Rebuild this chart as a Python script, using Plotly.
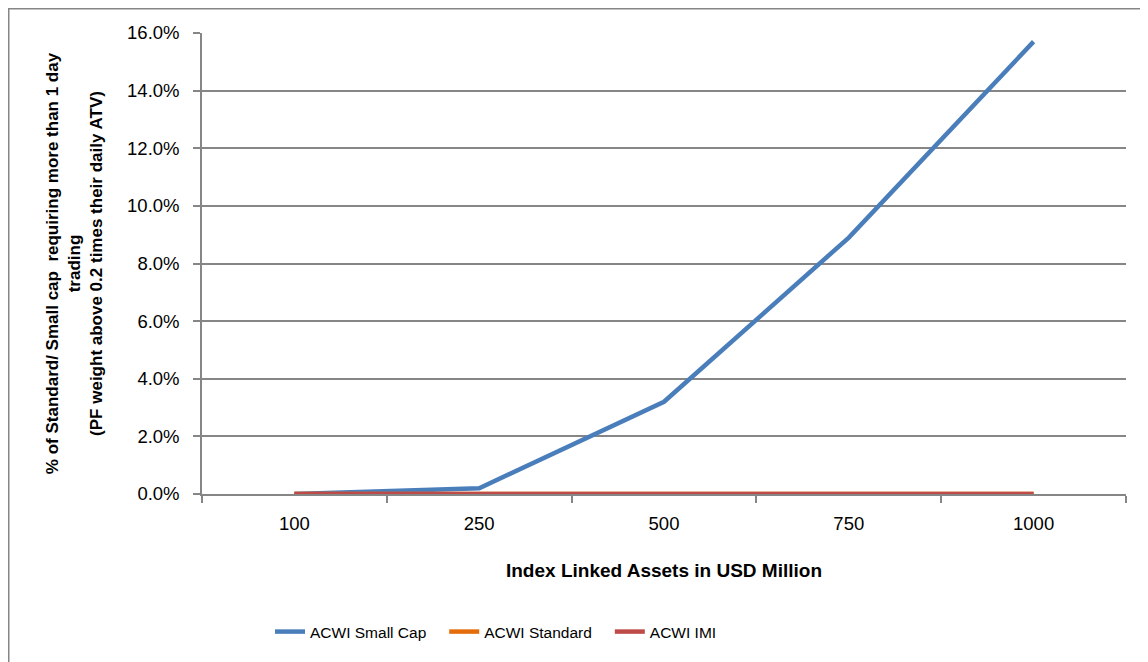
import plotly.graph_objects as go

categories = ["100", "250", "500", "750", "1000"]
small_cap = [0.0, 0.002, 0.032, 0.089, 0.157]
standard = [0.0, 0.0, 0.0, 0.0, 0.0]
imi = [0.0, 0.0, 0.0, 0.0, 0.0]

FONT = "Liberation Sans, Arial, sans-serif"
NB = "\u00a0" * 3

fig = go.Figure()
fig.add_trace(go.Scatter(x=categories, y=small_cap, name="ACWI Small Cap" + NB, mode="lines",
                         line=dict(color="#4A7EBB", width=4.5)))
fig.add_trace(go.Scatter(x=categories, y=standard, name="ACWI Standard" + NB, mode="lines",
                         line=dict(color="#E46C0A", width=4.5)))
fig.add_trace(go.Scatter(x=categories, y=imi, name="ACWI IMI", mode="lines",
                         line=dict(color="#BE4B48", width=4.5)))

# page body has an 8px margin, so figure coords = screen coords - 8
W, H = 1140, 654
L, R, T, B = 194, 1118, 25, 486

fig.update_layout(
    width=W, height=H,
    margin=dict(l=L, r=W - R, t=T, b=H - B, pad=0),
    paper_bgcolor="white", plot_bgcolor="white",
    font=dict(family=FONT, size=18, color="black"),
    showlegend=True,
    legend=dict(orientation="h", x=(262 - L) / (R - L), xanchor="left",
                y=(B - 624) / (B - T), yanchor="middle",
                font=dict(size=15.5), tracegroupgap=0),
    xaxis=dict(
        type="category", range=[-0.5, 4.5],
        showgrid=False, showline=True, linecolor="#868686", linewidth=1.5,
        ticks="outside", tickson="boundaries", ticklen=7, tickcolor="#868686", tickwidth=1.5,
        tickfont=dict(size=18.5), ticklabelstandoff=12,
        title=dict(text="<b>Index Linked Assets in USD Million</b>", font=dict(size=19), standoff=31),
    ),
    yaxis=dict(
        range=[0, 0.16], dtick=0.02, tickformat=".1%",
        showgrid=True, gridcolor="#868686", gridwidth=1.5,
        showline=True, linecolor="#868686", linewidth=1.5,
        ticks="outside", ticklen=7, tickcolor="#868686", tickwidth=1.5,
        tickfont=dict(size=18.5), zeroline=False, ticklabelstandoff=10,
        title=dict(text="<b>% of Standard/ Small cap  requiring more than 1 day<br>trading<br>(PF weight above 0.2 times their daily ATV)</b>",
                   font=dict(size=17), standoff=20),
    ),
    shapes=[dict(type="rect", xref="paper", yref="paper",
                 x0=(0.75 - L) / (R - L), x1=(W + 20 - L) / (R - L),
                 y0=(B - (H + 20)) / (B - T), y1=(B - 0.75) / (B - T),
                 line=dict(color="#868686", width=1.5), fillcolor="rgba(0,0,0,0)", layer="below")],
)

fig.write_html("out.html")
